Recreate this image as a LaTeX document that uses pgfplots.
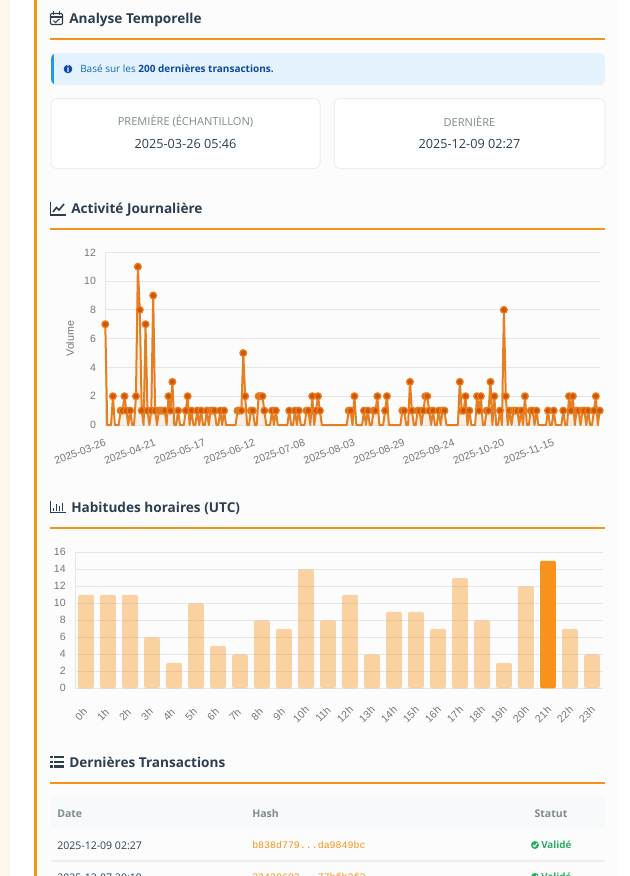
\documentclass[border=0pt]{standalone}
\usepackage{fontspec}
\usepackage{pgfplots}
\usepackage{pgfplotstable}
\pgfplotsset{compat=1.18}
\setmainfont{Open Sans}
\newfontfamily\chartfont{Liberation Sans}
\newfontfamily\hashfont{Liberation Mono}

\definecolor{pagepeach}{HTML}{FFF6EE}
\definecolor{panel}{HTML}{FCFCFC}
\definecolor{accent}{HTML}{F7931A}
\definecolor{ink}{HTML}{2C3E50}
\definecolor{muted}{HTML}{7F8C8D}
\definecolor{linecol}{HTML}{E67E22}
\definecolor{markcol}{HTML}{D35400}
\definecolor{gridcol}{HTML}{E6E6E6}
\definecolor{tickcol}{HTML}{777777}
\definecolor{infobg}{HTML}{E3F2FD}
\definecolor{infoblue}{HTML}{2196F3}
\definecolor{infotext}{HTML}{1565C0}
\definecolor{infodark}{HTML}{0D47A1}
\definecolor{okgreen}{HTML}{27AE60}
\definecolor{headbg}{HTML}{F8F9FA}
\definecolor{cardline}{HTML}{EEEEEE}

% daily volume, day 0 = 2025-03-26
\pgfplotstableread[row sep=\\]{
day vol\\
0 7\\1 0\\2 0\\3 0\\4 2\\5 0\\6 0\\7 0\\8 1\\9 1\\
10 2\\11 1\\12 0\\13 1\\14 0\\15 0\\16 2\\17 11\\18 8\\19 1\\
20 0\\21 7\\22 1\\23 0\\24 1\\25 9\\26 1\\27 0\\28 1\\29 1\\
30 1\\31 1\\32 0\\33 2\\34 1\\35 3\\36 0\\37 0\\38 1\\39 0\\
40 0\\41 0\\42 1\\43 2\\44 0\\45 1\\46 0\\47 0\\48 1\\49 0\\
50 1\\51 0\\52 0\\53 1\\54 0\\55 1\\56 1\\57 1\\58 0\\59 0\\
60 1\\61 0\\62 1\\63 0\\64 0\\65 0\\66 0\\67 0\\68 0\\69 1\\
70 1\\71 1\\72 5\\73 2\\74 0\\75 0\\76 1\\77 1\\78 0\\79 0\\
80 2\\81 2\\82 2\\83 1\\84 0\\85 0\\86 0\\87 1\\88 0\\89 1\\
90 0\\91 0\\92 0\\93 0\\94 0\\95 0\\96 1\\97 0\\98 0\\99 1\\
100 0\\101 1\\102 0\\103 0\\104 0\\105 1\\106 1\\107 0\\108 2\\109 0\\
110 1\\111 2\\112 1\\113 0\\114 0\\115 0\\116 0\\117 0\\118 0\\119 0\\
120 0\\121 0\\122 0\\123 0\\124 0\\125 0\\126 0\\127 1\\128 1\\129 0\\
130 2\\131 0\\132 0\\133 0\\134 0\\135 1\\136 0\\137 1\\138 0\\139 0\\
140 1\\141 1\\142 2\\143 0\\144 0\\145 0\\146 1\\147 2\\148 0\\149 0\\
150 0\\151 0\\152 0\\153 0\\154 0\\155 1\\156 1\\157 0\\158 0\\159 3\\
160 1\\161 0\\162 0\\163 1\\164 1\\165 0\\166 1\\167 2\\168 2\\169 1\\
170 0\\171 1\\172 0\\173 0\\174 1\\175 0\\176 1\\177 1\\178 0\\179 0\\
180 0\\181 0\\182 0\\183 0\\184 0\\185 3\\186 1\\187 1\\188 2\\189 0\\
190 1\\191 0\\192 0\\193 0\\194 2\\195 1\\196 2\\197 0\\198 0\\199 1\\
200 1\\201 3\\202 0\\203 2\\204 0\\205 0\\206 1\\207 0\\208 8\\209 2\\
210 0\\211 1\\212 0\\213 1\\214 1\\215 1\\216 0\\217 1\\218 0\\219 2\\
220 0\\221 0\\222 1\\223 1\\224 0\\225 1\\226 0\\227 0\\228 0\\229 0\\
230 0\\231 1\\232 0\\233 0\\234 1\\235 0\\236 0\\237 0\\238 0\\239 1\\
240 0\\241 0\\242 2\\243 1\\244 2\\245 0\\246 1\\247 1\\248 0\\249 1\\
250 1\\251 0\\252 1\\253 0\\254 0\\255 1\\256 2\\257 0\\258 1\\
}\daily

% transactions per hour
\pgfplotstableread[row sep=\\]{
hour n\\
0 11\\1 11\\2 11\\3 6\\4 3\\5 10\\6 5\\7 4\\8 8\\9 7\\10 14\\11 8\\
12 11\\13 4\\14 9\\15 9\\16 7\\17 13\\18 8\\19 3\\20 12\\21 15\\22 7\\23 4\\
}\hours

\pgfplotsset{
  chartaxis/.style={
    scale only axis,
    anchor=south west,
    clip=false,
    axis x line*=bottom,
    axis y line*=left,
    axis line style={gridcol,line width=.75pt,-},
    ymajorgrids,
    grid style={gridcol,line width=.75pt},
    ytick style={gridcol,line width=.75pt},
    major tick length=4.5pt,
    xtick style={draw=none},
    tick label style={font=\chartfont\fontsize{7.9}{10}\selectfont,text=tickcol},
    y tick label style={xshift=-3.5pt},
    /pgf/number format/assume math mode=true,
  },
}

\newcommand{\sectiontitle}[2]{%
  \node[anchor=base west,inner sep=0pt,text=ink,font=\fontsize{10.2}{12}\selectfont\bfseries] at (#1) {#2};}

\newcommand{\txrow}[3]{%
  \node[anchor=west,inner sep=0pt,font=\fontsize{7.9}{10}\selectfont,text=ink] at (57,#1+1) {#2};
  \node[anchor=west,inner sep=0pt,font=\hashfont\fontsize{7.45}{10}\selectfont,text=accent] at (252,#1) {#3};
  \fill[okgreen] (535,#1) circle (4);
  \draw[white,line width=.8pt] (533,#1) -- (534.6,#1+1.6) -- (537.2,#1-1.6);
  \node[anchor=west,inner sep=0pt,font=\fontsize{7.4}{10}\selectfont\bfseries,text=okgreen] at (541,#1) {Validé};}

\begin{document}
\begin{tikzpicture}[x=.75pt,y=-.75pt]
\clip (0,0) rectangle (630,876);
\fill[white] (0,0) rectangle (630,876);
\fill[pagepeach] (0,0) rectangle (10,876);
\fill[panel] (34,0) rectangle (617,876);
\fill[accent] (34,0) rectangle (37,876);

% section rules
\foreach \y in {38.5,229,528.3,783} \fill[accent] (50,\y-1) rectangle (605,\y+1);

% section 1
\begin{scope}[ink,line width=.8pt]
  \draw[rounded corners=.8pt] (50.5,13.5) rectangle (62.5,24.5);
  \draw (50.5,17) -- (62.5,17);
  \draw (53.5,11) -- (53.5,14.5) (59.5,11) -- (59.5,14.5);
  \draw (53.5,20.5) -- (55.5,22.5) -- (59.5,18.8);
\end{scope}
\sectiontitle{69,23}{Analyse Temporelle}

\fill[infobg,rounded corners=4.5pt] (51,53) rectangle (605,85);
\begin{scope}
  \clip[rounded corners=4.5pt] (51,53) rectangle (605,85);
  \fill[infoblue] (51,53) rectangle (53.5,85);
\end{scope}
\fill[infodark] (68,69) circle (4.3);
\fill[infobg] (67.3,64.8) rectangle (68.7,66.2) (67.3,67.4) rectangle (68.7,72);
\node[anchor=west,inner sep=0pt,font=\fontsize{7.5}{10}\selectfont,text=infotext] at (80,69)
  {Basé sur les {\bfseries\color{infodark}200 dernières transactions.}};

\foreach \xa/\xb/\lab/\val in {51/320/PREMIÈRE (ÉCHANTILLON)/2025-03-26 05:46,334/605/DERNIÈRE/2025-12-09 02:27}{
  \filldraw[fill=white,draw=cardline,line width=.75pt,rounded corners=4.5pt] (\xa,98.5) rectangle (\xb,168.5);
  \node[inner sep=0pt,font=\fontsize{8.3}{10}\selectfont,text=muted] at ({(\xa+\xb)/2},121.2) {\lab};
  \node[inner sep=0pt,font=\fontsize{9.5}{11}\selectfont,text=ink] at ({(\xa+\xb)/2},144.2) {\val};
}

% section 2
\begin{scope}[ink,line width=.9pt]
  \draw (50.5,202) -- (50.5,215) -- (66,215);
  \draw[line width=1.2pt] (53,212) -- (56.5,207.5) -- (59,210) -- (64,204);
\end{scope}
\sectiontitle{71,213}{Activité Journalière}

% line chart
\begin{axis}[chartaxis,
  at={(78.975pt,-318.75pt)},
  width=370.8pt,height=129.5pt,
  xmin=0,xmax=258,ymin=0,ymax=12,
  ytick={0,2,...,12},
  xtick={0,26,52,78,104,130,156,182,208,234},
  xticklabels={2025-03-26,2025-04-21,2025-05-17,2025-06-12,2025-07-08,2025-08-03,2025-08-29,2025-09-24,2025-10-20,2025-11-15},
  x tick label style={rotate=21,anchor=north east,inner sep=0pt,yshift=-9pt,xshift=-4.5pt},
  ylabel={Volume},
  every axis y label/.style={at={(axis description cs:-0.0714,0.5)},rotate=90,anchor=center,
    font=\chartfont\fontsize{8}{10}\selectfont,text=tickcol},
]
  \addplot[fill=linecol,fill opacity=.1,draw=none] table[x=day,y=vol] {\daily} \closedcycle;
  \addplot[linecol,line width=1.5pt,line join=round,mark=none] table[x=day,y=vol] {\daily};
  \addplot[only marks,mark=*,mark size=2.5pt,
    mark options={fill=markcol,draw=linecol,line width=1pt},
    restrict y to domain=0.5:12] table[x=day,y=vol] {\daily};
\end{axis}

% section 3
\begin{scope}[ink,line width=.9pt]
  \draw (50.5,501) -- (50.5,512.5) -- (65.7,512.5);
  \foreach \bx/\by in {53.5/507.5,56.5/503.5,59.5/505.5,62.5/502.5}
    \draw[line width=1.3pt] (\bx,510.8) -- (\bx,\by);
\end{scope}
\sectiontitle{71,512}{Habitudes horaires (UTC)}

% bar chart
\begin{axis}[chartaxis,
  at={(56.25pt,-516.225pt)},
  width=396pt,height=102pt,
  xmin=-0.5,xmax=23.5,ymin=0,ymax=16,
  ytick={0,2,...,16},
  xtick={0,...,23},
  xticklabels={0h,1h,2h,3h,4h,5h,6h,7h,8h,9h,10h,11h,12h,13h,14h,15h,16h,17h,18h,19h,20h,21h,22h,23h},
  x tick label style={rotate=45,anchor=center,inner sep=0pt,xshift=-13.26pt,yshift=-7.95pt},
  ybar,bar width=11.7pt,
]
  \addplot[fill=accent,fill opacity=.4,draw=none,bar shift=0pt,rounded corners=1.1pt,
    restrict x to domain=0:20] table[x=hour,y=n] {\hours};
  \addplot[fill=accent,draw=none,bar shift=0pt,rounded corners=1.1pt,
    restrict x to domain=21:21] table[x=hour,y=n] {\hours};
  \addplot[fill=accent,fill opacity=.4,draw=none,bar shift=0pt,rounded corners=1.1pt,
    restrict x to domain=22:23] table[x=hour,y=n] {\hours};
\end{axis}

% section 4
\begin{scope}[ink]
  \foreach \y in {757,761.7,766.4}{
    \fill (50,\y-1.2) rectangle (52.5,\y+1.2);
    \fill (54,\y-1.2) rectangle (64,\y+1.2);
  }
\end{scope}
\sectiontitle{69,767}{Dernières Transactions}

\fill[headbg] (51,797) rectangle (605,829);
\begin{scope}[font=\fontsize{7.9}{10}\selectfont\bfseries,text=muted]
  \node[anchor=west,inner sep=0pt] at (57,814) {Date};
  \node[anchor=west,inner sep=0pt] at (252,814) {Hash};
  \node[inner sep=0pt] at (551,814) {Statut};
\end{scope}
\fill[cardline] (51,860) rectangle (605,861.5);

\txrow{845}{2025-12-09 02:27}{b838d779...da9849bc}
\txrow{877}{2025-12-07 20:19}{22439693...77bfb2f2}
\end{tikzpicture}
\end{document}
